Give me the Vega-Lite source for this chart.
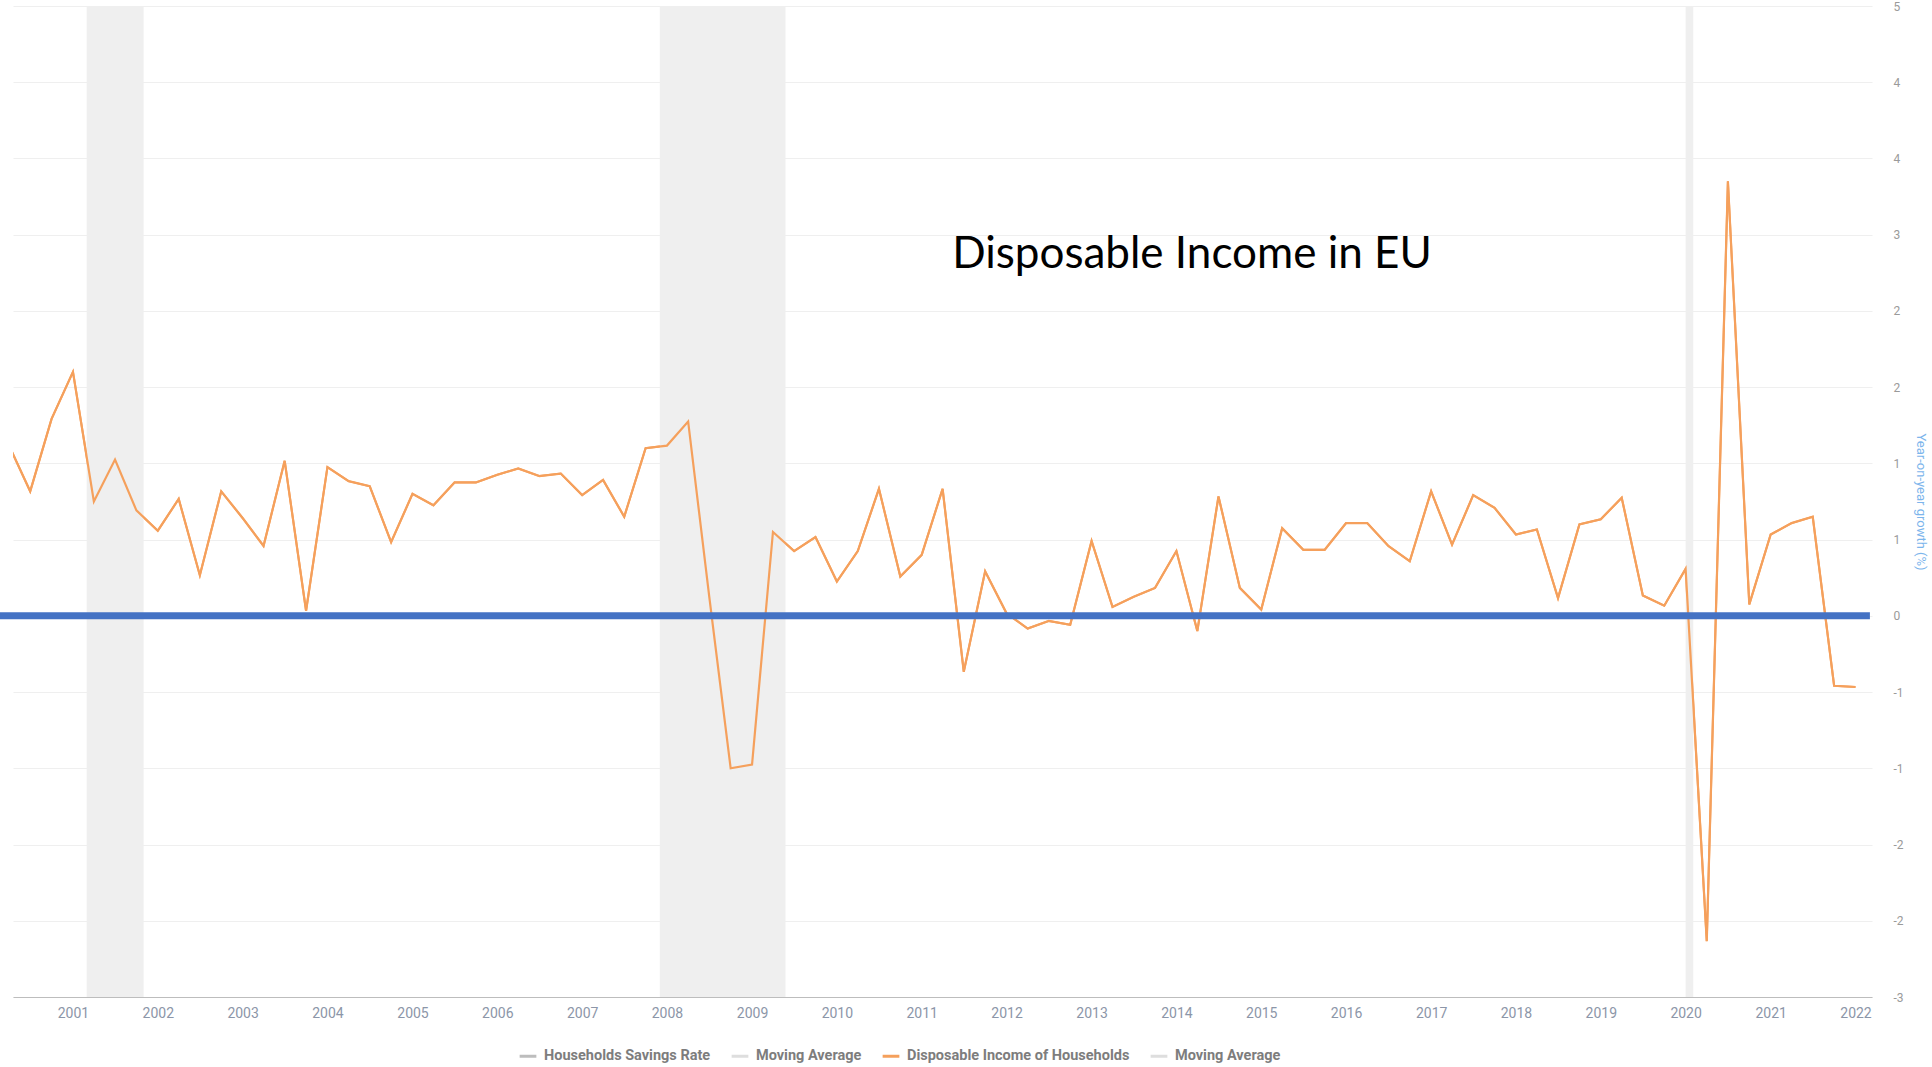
{
  "$schema": "https://vega.github.io/schema/vega-lite/v6.json",
  "width": 1859,
  "height": 991,
  "autosize": {"type": "none"},
  "padding": {"left": 13, "top": 6, "right": 60, "bottom": 70},
  "background": "white",
  "config": {"view": {"stroke": null}},
  "datasets": {
    "income": [
      {"date": "2000-04-01", "value": 1.34, "series": "Disposable Income of Households"},
      {"date": "2000-07-01", "value": 0.98, "series": "Disposable Income of Households"},
      {"date": "2000-10-01", "value": 1.55, "series": "Disposable Income of Households"},
      {"date": "2001-01-01", "value": 1.92, "series": "Disposable Income of Households"},
      {"date": "2001-04-01", "value": 0.90, "series": "Disposable Income of Households"},
      {"date": "2001-07-01", "value": 1.23, "series": "Disposable Income of Households"},
      {"date": "2001-10-01", "value": 0.83, "series": "Disposable Income of Households"},
      {"date": "2002-01-01", "value": 0.67, "series": "Disposable Income of Households"},
      {"date": "2002-04-01", "value": 0.92, "series": "Disposable Income of Households"},
      {"date": "2002-07-01", "value": 0.32, "series": "Disposable Income of Households"},
      {"date": "2002-10-01", "value": 0.98, "series": "Disposable Income of Households"},
      {"date": "2003-01-01", "value": 0.77, "series": "Disposable Income of Households"},
      {"date": "2003-04-01", "value": 0.55, "series": "Disposable Income of Households"},
      {"date": "2003-07-01", "value": 1.22, "series": "Disposable Income of Households"},
      {"date": "2003-10-01", "value": 0.04, "series": "Disposable Income of Households"},
      {"date": "2004-01-01", "value": 1.17, "series": "Disposable Income of Households"},
      {"date": "2004-04-01", "value": 1.06, "series": "Disposable Income of Households"},
      {"date": "2004-07-01", "value": 1.02, "series": "Disposable Income of Households"},
      {"date": "2004-10-01", "value": 0.58, "series": "Disposable Income of Households"},
      {"date": "2005-01-01", "value": 0.96, "series": "Disposable Income of Households"},
      {"date": "2005-04-01", "value": 0.87, "series": "Disposable Income of Households"},
      {"date": "2005-07-01", "value": 1.05, "series": "Disposable Income of Households"},
      {"date": "2005-10-01", "value": 1.05, "series": "Disposable Income of Households"},
      {"date": "2006-01-01", "value": 1.11, "series": "Disposable Income of Households"},
      {"date": "2006-04-01", "value": 1.16, "series": "Disposable Income of Households"},
      {"date": "2006-07-01", "value": 1.10, "series": "Disposable Income of Households"},
      {"date": "2006-10-01", "value": 1.12, "series": "Disposable Income of Households"},
      {"date": "2007-01-01", "value": 0.95, "series": "Disposable Income of Households"},
      {"date": "2007-04-01", "value": 1.07, "series": "Disposable Income of Households"},
      {"date": "2007-07-01", "value": 0.78, "series": "Disposable Income of Households"},
      {"date": "2007-10-01", "value": 1.32, "series": "Disposable Income of Households"},
      {"date": "2008-01-01", "value": 1.34, "series": "Disposable Income of Households"},
      {"date": "2008-04-01", "value": 1.53, "series": "Disposable Income of Households"},
      {"date": "2008-07-01", "value": 0.15, "series": "Disposable Income of Households"},
      {"date": "2008-10-01", "value": -1.20, "series": "Disposable Income of Households"},
      {"date": "2009-01-01", "value": -1.17, "series": "Disposable Income of Households"},
      {"date": "2009-04-01", "value": 0.66, "series": "Disposable Income of Households"},
      {"date": "2009-07-01", "value": 0.51, "series": "Disposable Income of Households"},
      {"date": "2009-10-01", "value": 0.62, "series": "Disposable Income of Households"},
      {"date": "2010-01-01", "value": 0.27, "series": "Disposable Income of Households"},
      {"date": "2010-04-01", "value": 0.51, "series": "Disposable Income of Households"},
      {"date": "2010-07-01", "value": 1.00, "series": "Disposable Income of Households"},
      {"date": "2010-10-01", "value": 0.31, "series": "Disposable Income of Households"},
      {"date": "2011-01-01", "value": 0.48, "series": "Disposable Income of Households"},
      {"date": "2011-04-01", "value": 1.00, "series": "Disposable Income of Households"},
      {"date": "2011-07-01", "value": -0.44, "series": "Disposable Income of Households"},
      {"date": "2011-10-01", "value": 0.35, "series": "Disposable Income of Households"},
      {"date": "2012-01-01", "value": 0.02, "series": "Disposable Income of Households"},
      {"date": "2012-04-01", "value": -0.10, "series": "Disposable Income of Households"},
      {"date": "2012-07-01", "value": -0.04, "series": "Disposable Income of Households"},
      {"date": "2012-10-01", "value": -0.07, "series": "Disposable Income of Households"},
      {"date": "2013-01-01", "value": 0.59, "series": "Disposable Income of Households"},
      {"date": "2013-04-01", "value": 0.07, "series": "Disposable Income of Households"},
      {"date": "2013-07-01", "value": 0.15, "series": "Disposable Income of Households"},
      {"date": "2013-10-01", "value": 0.22, "series": "Disposable Income of Households"},
      {"date": "2014-01-01", "value": 0.51, "series": "Disposable Income of Households"},
      {"date": "2014-04-01", "value": -0.12, "series": "Disposable Income of Households"},
      {"date": "2014-07-01", "value": 0.94, "series": "Disposable Income of Households"},
      {"date": "2014-10-01", "value": 0.22, "series": "Disposable Income of Households"},
      {"date": "2015-01-01", "value": 0.05, "series": "Disposable Income of Households"},
      {"date": "2015-04-01", "value": 0.69, "series": "Disposable Income of Households"},
      {"date": "2015-07-01", "value": 0.52, "series": "Disposable Income of Households"},
      {"date": "2015-10-01", "value": 0.52, "series": "Disposable Income of Households"},
      {"date": "2016-01-01", "value": 0.73, "series": "Disposable Income of Households"},
      {"date": "2016-04-01", "value": 0.73, "series": "Disposable Income of Households"},
      {"date": "2016-07-01", "value": 0.55, "series": "Disposable Income of Households"},
      {"date": "2016-10-01", "value": 0.43, "series": "Disposable Income of Households"},
      {"date": "2017-01-01", "value": 0.98, "series": "Disposable Income of Households"},
      {"date": "2017-04-01", "value": 0.56, "series": "Disposable Income of Households"},
      {"date": "2017-07-01", "value": 0.95, "series": "Disposable Income of Households"},
      {"date": "2017-10-01", "value": 0.85, "series": "Disposable Income of Households"},
      {"date": "2018-01-01", "value": 0.64, "series": "Disposable Income of Households"},
      {"date": "2018-04-01", "value": 0.68, "series": "Disposable Income of Households"},
      {"date": "2018-07-01", "value": 0.14, "series": "Disposable Income of Households"},
      {"date": "2018-10-01", "value": 0.72, "series": "Disposable Income of Households"},
      {"date": "2019-01-01", "value": 0.76, "series": "Disposable Income of Households"},
      {"date": "2019-04-01", "value": 0.93, "series": "Disposable Income of Households"},
      {"date": "2019-07-01", "value": 0.16, "series": "Disposable Income of Households"},
      {"date": "2019-10-01", "value": 0.08, "series": "Disposable Income of Households"},
      {"date": "2020-01-01", "value": 0.37, "series": "Disposable Income of Households"},
      {"date": "2020-04-01", "value": -2.56, "series": "Disposable Income of Households"},
      {"date": "2020-07-01", "value": 3.42, "series": "Disposable Income of Households"},
      {"date": "2020-10-01", "value": 0.09, "series": "Disposable Income of Households"},
      {"date": "2021-01-01", "value": 0.64, "series": "Disposable Income of Households"},
      {"date": "2021-04-01", "value": 0.73, "series": "Disposable Income of Households"},
      {"date": "2021-07-01", "value": 0.78, "series": "Disposable Income of Households"},
      {"date": "2021-10-01", "value": -0.55, "series": "Disposable Income of Households"},
      {"date": "2022-01-01", "value": -0.56, "series": "Disposable Income of Households"}
    ],
    "recessions": [
      {"date": "2001-03-01", "end": "2001-11-01"},
      {"date": "2007-12-01", "end": "2009-05-25"},
      {"date": "2020-01-01", "end": "2020-02-03"}
    ],
    "zeroline": [
      {"date": "2000-02-22", "end": "2022-03-04", "value": 0}
    ],
    "label": [
      {"date": "2014-03-09", "value": 2.74, "text": "Disposable Income in EU"}
    ]
  },
  "layer": [
    {
      "data": {"name": "income"},
      "mark": {"type": "line", "strokeWidth": 2, "clip": true},
      "encoding": {
        "x": {
          "field": "date", "type": "temporal",
          "scale": {"type": "utc", "domain": ["2000-04-18", "2022-03-13"], "nice": false},
          "axis": {
            "title": null, "format": "%Y", "formatType": "utc",
            "tickCount": {"interval": "year", "step": 1},
            "grid": false, "ticks": false, "domain": true, "domainColor": "#bdbdbd", "domainWidth": 1,
            "labelColor": "#8c96a8", "labelFont": "Roboto", "labelFontSize": 14, "labelPadding": 9,
            "labelFlush": false, "labelOverlap": false
          }
        },
        "y": {
          "field": "value", "type": "quantitative",
          "scale": {"domain": [-3, 4.8], "nice": false, "zero": false},
          "axis": {
            "orient": "right",
            "values": [-3, -2.4, -1.8, -1.2, -0.6, 0, 0.6, 1.2, 1.8, 2.4, 3, 3.6, 4.2, 4.8],
            "labelExpr": "'' + round(datum.value)",
            "grid": true, "gridColor": "#efefef", "gridWidth": 1,
            "domain": false, "ticks": false,
            "labelColor": "#9a9a9a", "labelFont": "Roboto", "labelFontSize": 12, "labelPadding": 21,
            "labelOverlap": false, "labelFlush": false,
            "title": "Year-on-year growth (%)", "titleColor": "#7cb5ec", "titleFont": "Roboto",
            "titleFontSize": 13, "titleFontWeight": "normal", "titleAngle": 90, "titlePadding": 10
          }
        },
        "color": {
          "field": "series", "type": "nominal",
          "scale": {
            "domain": ["Households Savings Rate", "Moving Average (savings)", "Disposable Income of Households", "Moving Average (income)"],
            "range": ["#bdbdbd", "#dedede", "#f5a05c", "#dedede"]
          },
          "legend": {
            "title": null, "orient": "none", "legendX": 505, "legendY": 1040, "direction": "horizontal",
            "padding": 0, "symbolType": "stroke", "symbolStrokeWidth": 3, "symbolSize": 280,
            "labelExpr": "indexof(datum.label, 'Moving') == 0 ? 'Moving Average' : datum.label",
            "labelFont": "Roboto", "labelFontSize": 14.5, "labelFontWeight": "bold", "labelColor": "#7d7d7d",
            "labelOffset": 6, "columnPadding": 14, "labelLimit": 400
          }
        }
      }
    },
    {
      "data": {"name": "recessions"},
      "mark": {"type": "rect", "color": "#efefef"},
      "encoding": {
        "x": {"field": "date", "type": "temporal"},
        "x2": {"field": "end"}
      }
    },
    {
      "data": {"name": "income"},
      "mark": {"type": "line", "strokeWidth": 2.2, "clip": true},
      "encoding": {
        "x": {"field": "date", "type": "temporal"},
        "y": {"field": "value", "type": "quantitative"},
        "color": {"field": "series", "type": "nominal"}
      }
    },
    {
      "data": {"name": "zeroline"},
      "mark": {"type": "rule", "color": "#4472c4", "strokeWidth": 7},
      "encoding": {
        "x": {"field": "date", "type": "temporal"},
        "x2": {"field": "end"},
        "y": {"field": "value", "type": "quantitative"}
      }
    },
    {
      "data": {"name": "label"},
      "mark": {"type": "text", "font": "Lato", "fontSize": 44, "color": "#000000", "align": "center", "baseline": "alphabetic"},
      "encoding": {
        "x": {"field": "date", "type": "temporal"},
        "y": {"field": "value", "type": "quantitative"},
        "text": {"field": "text"}
      }
    }
  ]
}
